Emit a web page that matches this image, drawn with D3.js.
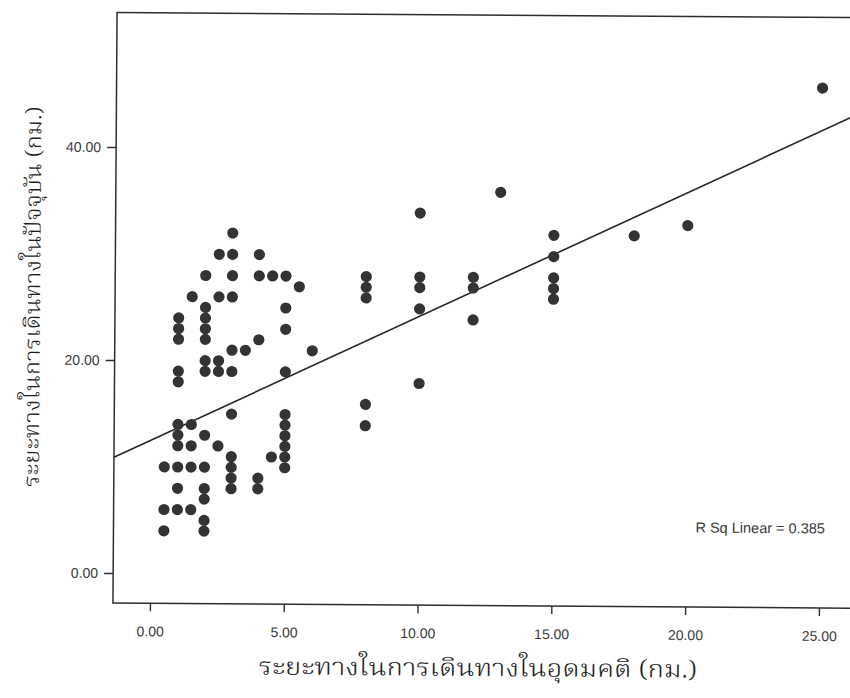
<!DOCTYPE html>
<html>
<head>
<meta charset="utf-8">
<script src="https://cdn.jsdelivr.net/npm/d3@7"></script>
<style>
  html, body { margin: 0; padding: 0; background: #ffffff; }
  svg { display: block; }
</style>
</head>
<body>
<svg id="chart" width="850" height="698"></svg>
<script>
// Ideal (x) vs. current (y) travel distance in km, one pair per respondent
const idealKm = [
  0.5, 0.5, 0.5,
  1, 1, 1, 1, 1, 1, 1, 1, 1, 1, 1,
  1.5, 1.5, 1.5, 1.5, 1.5,
  2, 2, 2, 2, 2, 2, 2, 2, 2, 2, 2, 2, 2,
  2.5, 2.5, 2.5, 2.5, 2.5,
  3, 3, 3, 3, 3, 3, 3, 3, 3, 3, 3,
  3.5,
  4, 4, 4, 4, 4,
  4.5, 4.5,
  5, 5, 5, 5, 5, 5, 5, 5, 5, 5,
  5.5,
  6,
  8, 8, 8, 8, 8,
  10, 10, 10, 10, 10,
  12, 12, 12,
  13,
  15, 15, 15, 15, 15,
  18,
  20,
  25
];
const currentKm = [
  10, 6, 4,
  24, 23, 22, 19, 18, 14, 13, 12, 10, 8, 6,
  26, 14, 12, 10, 6,
  28, 25, 24, 23, 22, 20, 19, 13, 10, 8, 7, 5, 4,
  30, 26, 20, 19, 12,
  32, 30, 28, 26, 21, 19, 15, 11, 10, 9, 8,
  21,
  30, 28, 22, 9, 8,
  28, 11,
  28, 25, 23, 19, 15, 14, 13, 12, 11, 10,
  27,
  21,
  28, 27, 26, 16, 14,
  34, 28, 27, 25, 18,
  28, 27, 24,
  36,
  32, 30, 28, 27, 26,
  32,
  33,
  46
];

// Axis ticks
const xTicks = [0, 5, 10, 15, 20, 25];
const yTicks = [0, 20, 40];

// Linear fit
const fitIntercept = 12.5;
const fitSlope = 1.18;
const rSquared = 0.385;

const xTitle = "ระยะทางในการเดินทางในอุดมคติ (กม.)";
const yTitle = "ระยะทางในการเดินทางในปัจจุบัน (กม.)";

// ---- layout ----
const W = 850, H = 698;
const frame = { left: 115, top: 15, right: 880, bottom: 605.6 };
const ink = "#2e2e2e";
const labelInk = "#3a3a3a";
const labelFont = "Arial, 'Liberation Sans', Helvetica, sans-serif";
const thaiFont = "'Noto Serif Thai', 'Norasi', 'Tlwg Typo', 'Loma', 'Garuda', 'Noto Sans Thai', serif";

const x = d3.scaleLinear().domain([0, 25]).range([152, 821]);
const y = d3.scaleLinear().domain([0, 40]).range([575.6, 149.6]);

const svg = d3.select("#chart");
svg.append("rect").attr("width", W).attr("height", H).attr("fill", "#ffffff");

// the printed page sits a little askew
const g = svg.append("g").attr("transform", "rotate(0.4, 480, 310)");

g.append("defs").append("clipPath").attr("id", "plot-clip")
  .append("rect")
  .attr("x", frame.left).attr("y", frame.top)
  .attr("width", frame.right - frame.left)
  .attr("height", frame.bottom - frame.top);

// y axis
const yAxis = g.append("g")
  .attr("transform", `translate(${frame.left},0)`)
  .call(d3.axisLeft(y).tickValues(yTicks).tickFormat(d3.format(".2f"))
    .tickSize(9).tickPadding(6));
yAxis.select(".domain").remove();

// x axis
const xAxis = g.append("g")
  .attr("transform", `translate(0,${frame.bottom})`)
  .call(d3.axisBottom(x).tickValues(xTicks).tickFormat(d3.format(".2f"))
    .tickSize(8).tickPadding(15));
xAxis.select(".domain").remove();

g.selectAll(".tick line").attr("stroke", ink).attr("stroke-width", 1.4);
g.selectAll(".tick text")
  .attr("fill", labelInk)
  .style("font-family", labelFont)
  .style("font-size", "14px");

// plot frame
g.append("rect")
  .attr("x", frame.left).attr("y", frame.top)
  .attr("width", frame.right - frame.left)
  .attr("height", frame.bottom - frame.top)
  .attr("fill", "none")
  .attr("stroke", ink)
  .attr("stroke-width", 1.5);

const plot = g.append("g").attr("clip-path", "url(#plot-clip)");

// fit line across the whole plot area
const x0 = x.invert(frame.left), x1 = x.invert(frame.right);
plot.append("line")
  .attr("x1", x(x0)).attr("y1", y(fitIntercept + fitSlope * x0))
  .attr("x2", x(x1)).attr("y2", y(fitIntercept + fitSlope * x1))
  .attr("stroke", "#262626")
  .attr("stroke-width", 1.6);

// respondents
const points = idealKm.map((v, i) => ({ ideal: v, current: currentKm[i] }));
plot.selectAll("circle.pt")
  .data(points)
  .join("circle")
  .attr("class", "pt")
  .attr("cx", d => x(d.ideal))
  .attr("cy", d => y(d.current))
  .attr("r", 5.6)
  .attr("fill", "#333333");

// R-squared annotation
g.append("text")
  .attr("x", 697).attr("y", 531)
  .attr("fill", labelInk)
  .style("font-family", labelFont)
  .style("font-size", "14.5px")
  .text(`R Sq Linear = ${rSquared.toFixed(3)}`);

// axis titles
g.append("text")
  .attr("x", 480).attr("y", 676)
  .attr("text-anchor", "middle")
  .attr("fill", "#1e1e1e")
  .style("font-family", thaiFont)
  .style("font-size", "24px")
  .style("font-weight", 300)
  .attr("textLength", 438)
  .attr("lengthAdjust", "spacingAndGlyphs")
  .text(xTitle);

g.append("text")
  .attr("transform", "translate(40,300) rotate(-90)")
  .attr("text-anchor", "middle")
  .attr("fill", "#1e1e1e")
  .style("font-family", thaiFont)
  .style("font-size", "22px")
  .style("font-weight", 300)
  .attr("textLength", 380)
  .attr("lengthAdjust", "spacingAndGlyphs")
  .text(yTitle);
</script>
</body>
</html>
